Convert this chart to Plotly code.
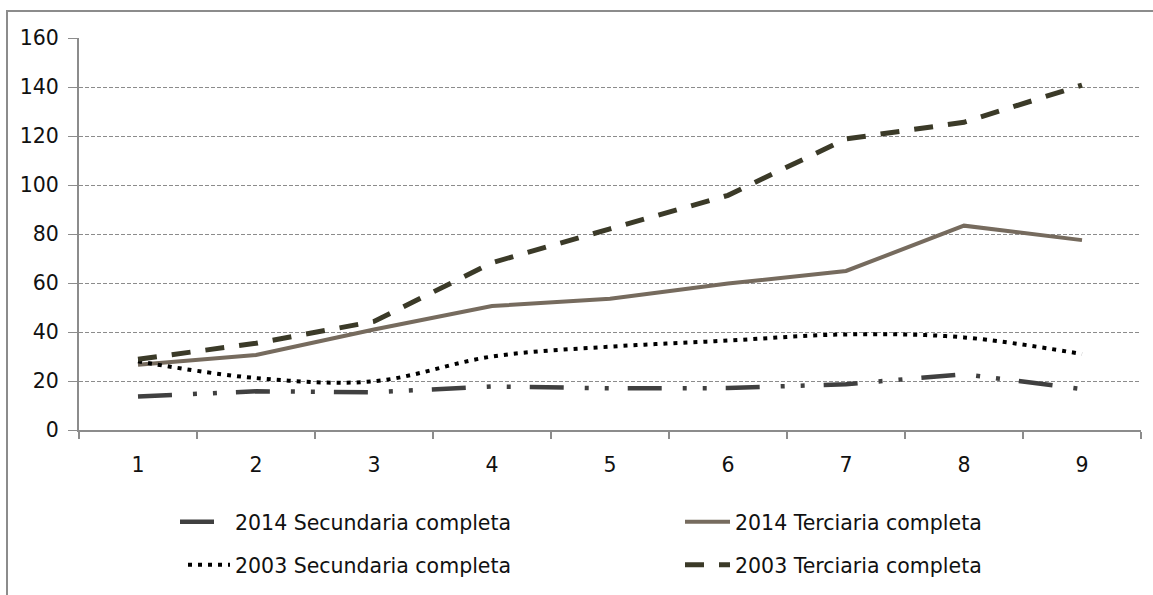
import plotly.graph_objects as go

# Categories on the horizontal axis
categorias = ["1", "2", "3", "4", "5", "6", "7", "8", "9"]

# Series values
sec_2014 = [13.7, 15.8, 15.4, 17.8, 17.0, 17.1, 18.7, 22.8, 16.7]
ter_2014 = [26.6, 30.6, 41.0, 50.6, 53.6, 59.8, 64.9, 83.4, 77.5]
sec_2003 = [28.0, 21.2, 19.9, 30.0, 34.0, 36.5, 39.0, 37.8, 31.0]
ter_2003 = [28.9, 35.4, 44.3, 68.3, 82.1, 95.8, 118.8, 125.6, 140.8]

nombres = [
    "2014 Secundaria completa",
    "2014 Terciaria completa",
    "2003 Secundaria completa",
    "2003 Terciaria completa",
]

y_ticks = [0, 20, 40, 60, 80, 100, 120, 140, 160]

FONT = "DejaVu Sans"
FSIZE = 20.5
GRID = "#8c8c8c"

# plot area in pixels
L, R, T, B = 79, 1141, 38, 431
W, H = R - L, B - T


def px_x(p):
    return (p - L) / W


def px_y(p):
    return (B - p) / H


fig = go.Figure()

fig.add_trace(go.Scatter(
    x=categorias, y=sec_2014, name=nombres[0], mode="lines",
    line=dict(color="#404040", width=4.5, dash="34px,21px,4px,16px,4px,19px"),
    legend="legend", showlegend=True,
))
fig.add_trace(go.Scatter(
    x=categorias, y=ter_2014, name=nombres[1], mode="lines",
    line=dict(color="#766b5e", width=4),
    legend="legend2", showlegend=True,
))
fig.add_trace(go.Scatter(
    x=categorias, y=sec_2003, name=nombres[2], mode="lines",
    line=dict(color="#000000", width=4, dash="4px,6px", shape="spline", smoothing=1),
    legend="legend3", showlegend=True,
))
fig.add_trace(go.Scatter(
    x=categorias, y=ter_2003, name=nombres[3], mode="lines",
    line=dict(color="#3b3a28", width=5, dash="19px,15px"),
    legend="legend4", showlegend=True,
))

# Outer frame of the chart (runs off the right and bottom edges)
fig.add_shape(
    type="rect", xref="paper", yref="paper",
    x0=px_x(7), x1=1.2, y0=-0.6, y1=px_y(11),
    line=dict(color="#8c8c8c", width=2), fillcolor="rgba(0,0,0,0)",
)


def leg(text_x, y_center, itemwidth=30):
    return dict(
        orientation="h", xanchor="left", yanchor="middle",
        x=px_x(text_x - itemwidth - 10), y=px_y(y_center),
        font=dict(family=FONT, size=FSIZE, color="#111111"),
        bgcolor="rgba(0,0,0,0)", itemwidth=itemwidth, visible=True,
    )


fig.update_layout(
    width=1153, height=595,
    showlegend=True,
    margin=dict(l=L, r=1153 - R, t=T, b=595 - B),
    paper_bgcolor="white", plot_bgcolor="white",
    font=dict(family=FONT, size=FSIZE, color="#111111"),
    legend=leg(235, 522, 50),
    legend2=leg(735, 522, 45),
    legend3=leg(235, 565, 42),
    legend4=leg(735, 565, 45),
    xaxis=dict(
        type="category", tickson="boundaries", range=[-0.5, 8.5],
        showline=True, linecolor=GRID, linewidth=2,
        ticks="outside", ticklen=7, tickcolor=GRID, tickwidth=2,
        showgrid=False, ticklabelstandoff=15,
        tickfont=dict(family=FONT, size=FSIZE, color="#111111"),
    ),
    yaxis=dict(
        range=[0, 160], tickvals=y_ticks,
        showline=True, linecolor=GRID, linewidth=2,
        ticks="outside", ticklen=9, tickcolor=GRID, tickwidth=1,
        showgrid=True, gridcolor=GRID, gridwidth=1, griddash="4px,2px",
        zeroline=False, ticklabelstandoff=5,
        tickfont=dict(family=FONT, size=FSIZE, color="#111111"),
    ),
)

fig.write_html("out.html")
